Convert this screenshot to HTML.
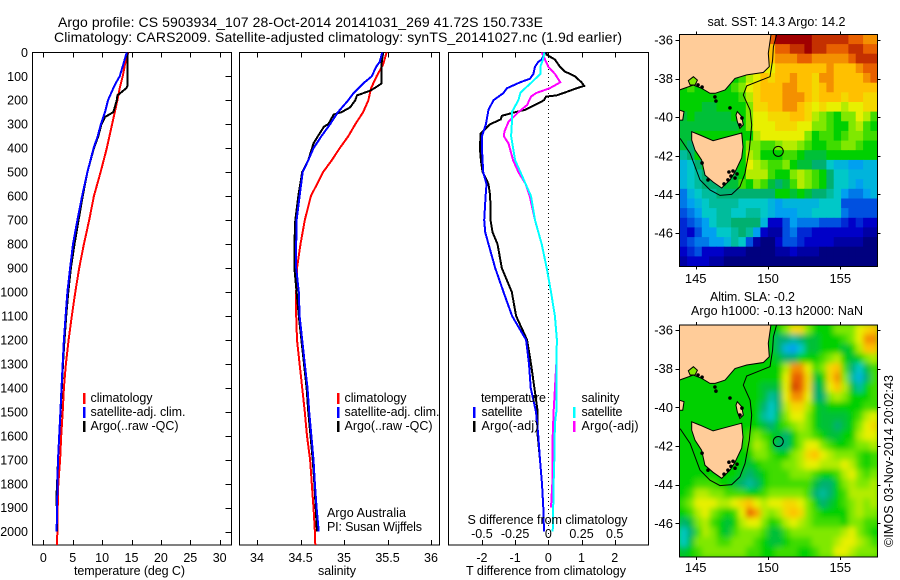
<!DOCTYPE html>
<html><head><meta charset="utf-8"><title>Argo profile</title>
<style>
html,body{margin:0;padding:0;background:#fff;}
svg{display:block;}
text{font-family:"Liberation Sans",sans-serif;font-size:12.5px;fill:#000;}
</style></head>
<body>
<svg id="chart" xmlns="http://www.w3.org/2000/svg" width="900" height="580" viewBox="0 0 900 580">
<defs>
<clipPath id="clip-sst"><rect x="679.5" y="34.5" width="198" height="232"/></clipPath>
<clipPath id="clip-sla"><rect x="679.5" y="325" width="198" height="232"/></clipPath>
<clipPath id="clip-t"><rect x="32.5" y="52.5" width="199" height="492.5"/></clipPath>
<clipPath id="clip-s"><rect x="239.5" y="52.5" width="200" height="492.5"/></clipPath>
<clipPath id="clip-d"><rect x="448.5" y="52.5" width="200" height="492.5"/></clipPath>
<filter id="soft" x="-5%" y="-5%" width="110%" height="110%"><feGaussianBlur stdDeviation="3"/></filter>
</defs>
<text x="58" y="27" font-size="14" style="font-size:14px" textLength="485" lengthAdjust="spacing">Argo profile: CS 5903934_107 28-Oct-2014 20141031_269 41.72S 150.733E</text>
<text x="54" y="42" style="font-size:14px" textLength="568" lengthAdjust="spacing">Climatology: CARS2009. Satellite-adjusted climatology: synTS_20141027.nc (1.9d earlier)</text>

<g id="panel-t"></g>
<g id="panel-s"></g>
<g id="panel-d"></g>
<g id="map-sst"></g>
<g id="map-sla"></g>

<text x="74" y="575" textLength="111" lengthAdjust="spacing">temperature (deg C)</text>
<text x="318" y="575" textLength="38" lengthAdjust="spacing">salinity</text>
<text x="466" y="575" textLength="160" lengthAdjust="spacing">T difference from climatology</text>
<text x="467.5" y="524" textLength="160" lengthAdjust="spacing">S difference from climatology</text>

<g>
<rect x="83" y="393" width="2.5" height="11" fill="#f00"/>
<text x="90.5" y="402" textLength="62" lengthAdjust="spacing">climatology</text>
<rect x="83" y="407" width="2.5" height="11" fill="#00f"/>
<text x="90.5" y="416" textLength="95" lengthAdjust="spacing">satellite-adj. clim.</text>
<rect x="83" y="421" width="2.5" height="11" fill="#000"/>
<text x="90.5" y="430" textLength="88" lengthAdjust="spacing">Argo(..raw -QC)</text>
</g>
<g>
<rect x="337" y="393" width="2.5" height="11" fill="#f00"/>
<text x="344.5" y="402" textLength="62" lengthAdjust="spacing">climatology</text>
<rect x="337" y="407" width="2.5" height="11" fill="#00f"/>
<text x="344.5" y="416" textLength="95" lengthAdjust="spacing">satellite-adj. clim.</text>
<rect x="337" y="421" width="2.5" height="11" fill="#000"/>
<text x="344.5" y="430" textLength="88" lengthAdjust="spacing">Argo(..raw -QC)</text>
</g>
<text x="327" y="517" textLength="79" lengthAdjust="spacing">Argo Australia</text>
<text x="327" y="531" textLength="95" lengthAdjust="spacing">PI: Susan Wijffels</text>
<g>
<text x="481" y="402" textLength="65" lengthAdjust="spacing">temperature</text>
<rect x="473" y="407" width="2.5" height="11" fill="#00f"/>
<text x="481.5" y="416" textLength="41" lengthAdjust="spacing">satellite</text>
<rect x="473" y="421" width="2.5" height="11" fill="#000"/>
<text x="481.5" y="430" textLength="57" lengthAdjust="spacing">Argo(-adj)</text>
<text x="581.5" y="402" textLength="38" lengthAdjust="spacing">salinity</text>
<rect x="573" y="407" width="2.5" height="11" fill="#0ff"/>
<text x="581.5" y="416" textLength="41" lengthAdjust="spacing">satellite</text>
<rect x="573" y="421" width="2.5" height="11" fill="#f0f"/>
<text x="581.5" y="430" textLength="57" lengthAdjust="spacing">Argo(-adj)</text>
</g>

<text x="707.5" y="26" textLength="138" lengthAdjust="spacing">sat. SST: 14.3 Argo: 14.2</text>
<text x="710" y="301" textLength="85" lengthAdjust="spacing">Altim. SLA: -0.2</text>
<text x="691" y="315" textLength="172" lengthAdjust="spacing">Argo h1000: -0.13 h2000: NaN</text>
<text transform="translate(893,547) rotate(-90)" textLength="172" lengthAdjust="spacing">©IMOS 03-Nov-2014 20:02:43</text>
</svg>

<script>
// ---- temperature profiles (deg C) ----
const tempClimDepths = [0,50,100,150,200,300,400,500,600,700,800,900,1000,1100,1200,1300,1400,1500,1600,1700,1800,1900,2000,2055];
const tempClimValues = [14.45,13.9,13.5,13,12.6,11.7,10.8,9.75,8.6,7.8,6.9,6.1,5.45,4.85,4.3,3.85,3.5,3.3,3.05,2.85,2.55,2.45,2.4,2.3];
const tempSatDepths = [0,50,100,130,150,200,250,300,350,400,500,600,700,800,900,1000,1100,1200,1300,1400,1500,1600,1700,1800,1900,2000];
const tempSatValues = [14.2,13.6,13,12.3,11.9,11,10.5,9.8,9.25,8.55,7.5,6.6,5.8,5.05,4.55,4.1,3.8,3.5,3.3,3.1,2.9,2.7,2.5,2.4,2.35,2.27];
const tempArgoDepths = [0,140,150,180,200,250,270,300,350,400,500,600,700,800,900,1000,1100,1200,1300,1400,1500,1600,1700,1800,1850,1900,2000];
const tempArgoValues = [14.3,14.3,14.1,12.6,12.5,11.9,10.5,9.9,9.35,8.6,7.5,6.7,6,5.3,4.7,4.25,3.9,3.6,3.35,3.15,2.95,2.7,2.5,2.35,2.25,2.3,2.3];
// ---- salinity profiles (psu) ----
const salClimDepths = [0,50,100,150,200,250,300,350,400,450,500,600,700,800,900,1000,1100,1200,1300,1400,1500,1600,1700,1800,1900,2000,2055];
const salClimValues = [35.49,35.45,35.375,35.31,35.28,35.22,35.13,35.05,34.95,34.86,34.76,34.62,34.55,34.5,34.46,34.45,34.45,34.46,34.49,34.52,34.55,34.575,34.61,34.63,34.65,34.665,34.67];
const salSatDepths = [0,40,60,100,130,170,200,250,300,350,400,450,500,600,700,800,900,1000,1100,1200,1300,1400,1500,1600,1700,1800,1900,2000];
const salSatValues = [35.44,35.41,35.37,35.32,35.22,35.11,35.05,34.93,34.84,34.74,34.65,34.59,34.525,34.49,34.455,34.45,34.45,34.48,34.49,34.52,34.55,34.58,34.6,34.625,34.65,34.665,34.685,34.71];
const salArgoDepths = [0,50,130,145,160,180,200,230,250,260,300,310,350,380,450,500,600,700,800,900,1000,1100,1200,1300,1400,1500,1600,1700,1800,2000];
const salArgoValues = [35.45,35.43,35.43,35.37,35.3,35.15,35.13,35.07,34.97,34.88,34.82,34.77,34.7,34.65,34.59,34.52,34.475,34.44,34.43,34.43,34.455,34.48,34.51,34.54,34.57,34.59,34.615,34.64,34.66,34.69];
// ---- differences from climatology ----
const diffTArgoDepths = [0,10,30,60,80,100,125,140,150,165,180,185,200,220,240,250,265,280,300,320,340,400,450,500,520,550,600,700,750,800,900,1000,1100,1200,1300,1400,1500,1600,1700,1800];
const diffTArgoValues = [-0.07,-0.05,0.2,0.35,0.5,0.8,1,1.08,0.85,0.55,0.25,-0.07,-0.13,-0.4,-0.7,-1,-1.4,-1.43,-1.75,-1.9,-2.04,-2.06,-2.03,-1.98,-1.9,-1.8,-1.75,-1.74,-1.68,-1.53,-1.4,-1.1,-0.97,-0.64,-0.52,-0.42,-0.32,-0.32,-0.25,-0.19];
const diffTSatDepths = [0,30,40,60,90,110,125,150,170,200,240,300,350,400,500,550,600,700,750,800,900,1000,1100,1200,1300,1400,1500,1600,1700,1800,1900,2000];
const diffTSatValues = [-0.1,-0.2,-0.3,-0.4,-0.45,-0.55,-0.85,-1.25,-1.35,-1.65,-1.8,-1.88,-2,-2,-1.96,-1.86,-1.89,-1.93,-1.9,-1.8,-1.6,-1.35,-1.09,-0.67,-0.58,-0.53,-0.37,-0.3,-0.25,-0.19,-0.15,-0.13];
const diffSArgoDepths = [0,30,60,90,125,150,170,185,220,250,290,330,350,380,450,500,550,600,700,800,900,1000,1100,1200,1300,1500,1600,1800,1900];
const diffSArgoValues = [-0.05,-0.025,0,0.05,0.09,0.01,-0.09,-0.13,-0.16,-0.225,-0.3,-0.33,-0.335,-0.3,-0.265,-0.225,-0.17,-0.14,-0.1,-0.05,-0.012,0.02,0.05,0.065,0.06,0.04,0.033,0.03,0.02];
const diffSSatDepths = [0,30,60,90,125,150,170,200,250,300,350,400,450,500,550,600,700,800,900,1000,1100,1200,1300,1500,1550,1700,1800,1900,2000];
const diffSSatValues = [-0.03,-0.04,-0.06,-0.06,-0.125,-0.175,-0.21,-0.225,-0.275,-0.275,-0.28,-0.265,-0.25,-0.21,-0.17,-0.13,-0.1,-0.05,-0.012,0.02,0.05,0.065,0.06,0.06,0.05,0.045,0.04,0.037,0.033];
// ---- tick labels ----
const depthTicks = [0,100,200,300,400,500,600,700,800,900,1000,1100,1200,1300,1400,1500,1600,1700,1800,1900,2000];
const tempTicks = [0,5,10,15,20,25,30];
const salTicks = [34,34.5,35,35.5,36];
const diffTTicks = [-2,-1,0,1,2];
const diffSTicks = [-0.5,-0.25,0,0.25,0.5];
const lonTicks = [145,150,155];
const latTicks = [-36,-38,-40,-42,-44,-46];
// ---- map grids: colour level per 0.5 degree cell, rows north to south ----
const sstLevels = [
[6,6,6,6,6,6,6,6,6,6,6,6,10,11,11,11,11,11,10.5,10.5,10.5,10.5,10.5,10,10,9.5,9.5],
[6,6,6,6,6,6,6,6,6,6,6,6,9,10,10,10.5,10.5,11,10.5,10.5,10,10,10,10.5,10.5,10,10],
[6,6,6,6,6,6,6,6,6,6,6,6,9,9.5,9.5,9.5,10,10,9.5,9.5,9.5,9.5,9.5,10,10.5,10.5,10.5],
[6,6,6,6,6,6,6,6,6,6,6,8,8,9,9,9,9,9,9,9,9.5,9,9,9,9.5,10,10],
[6,6,6,6,6,6,6,6,6.5,7.5,8,9,8.5,9,9,9.5,9,9,8.5,9.5,9.5,9,9,9,9,9.5,10],
[6,6.5,6,6,6,6,6,6.5,7,8,8.5,9,9,9,9.5,9.5,9,9,8.5,9,9.5,9,9,9,9,9,9],
[6,6,6,6,6,6,6,6,6.5,7.5,8.5,9,9,9,9.5,9.5,9.5,9,8.5,9,9,9,8.5,9,9,8.5,8.5],
[6,6,6,5.5,5.5,6,6,6,6,7,8.5,8.5,9,9,9.5,9.5,9,8.5,8,8.5,8,8,7.5,8,8,8.5,8.5],
[5.5,6,5.5,5.5,5.5,5.5,5.5,6,6,7,8,8,8.5,8.5,8.5,9,9,8.5,7.5,7,6.5,6,7,7,8,7.5,6.5],
[5.5,5.5,5.5,5.5,5.5,5.5,5.5,5.5,6,7,8,8,8,8.5,8.5,8.5,8,8,7,7,6.5,6,6,7,7.5,6.5,6],
[5.5,5.5,6,6,6,6,6,6,6,6,7.5,8,8,8,8,8,8,7,6,6.5,6.5,6,6.5,7,7,6.5,6.5],
[5.5,5,6,6,6,6,6,6,6,7,7,6.5,6.5,7,7.5,7.5,7,6.5,6,6,6.5,6.5,7,7,6.5,6,6],
[4.5,5,6,6,6,6,6,6,6,7.5,7,6,6,6,6.5,6.5,6,5.5,5.5,5.5,6,6,6,6,6,6,6],
[3.5,4,5,6,6,6,6,6,6,8,7.5,7,6.5,6.5,7,6,5.5,5.5,5,5,4,3.5,3.5,3,3,3.5,3.5],
[3.5,4,4.5,5,5.5,5.5,5.5,5.5,6,7.5,7.5,7.5,6.5,6,6,7,7.5,7,6.5,6,5,4,4,3.5,3.5,3.5,3.5],
[3.5,4,4.5,5,5,5,5.5,5.5,6.5,6,7,6.5,5.5,5,5.5,6.5,7.5,7,6.5,6,5,4,4,3.5,3,3.5,3.5],
[2.5,3.5,4,4.5,4.5,5,5,5,5,5,5,5,5,6,6,5.5,6,5.5,5,5,4.5,4,3,2.5,2.5,3,3.5],
[2.5,3,3.5,4,4.5,4.5,4.5,4.5,4,4,4,4,3.5,3,3.5,3.5,3.5,3.5,3.5,4,4,4,2,2,2,2,2],
[2,2.5,3,4,4,4.5,4.5,4,4,4.5,4.5,4,3.5,3,3,3,3.5,3.5,4,4,4,4,2.5,2,2,2,2],
[1.5,2,2.5,3,4,4.5,4.5,5,5,5,5,3.5,1,1,2,3,2.5,2.5,2.5,2,2,2,1.5,1,1.5,1,1],
[1.5,1,2,3,3,4,4,4.5,5,4.5,3,1,0.5,0.5,2,2.5,1.5,1.5,1,1,1,1,1,1,1,0.5,0.5],
[1.5,2,2.5,2.5,3,3,3.5,4.5,4,2,0.5,0,0,1,2,2,1.5,1,1,1,1,0.5,0.5,0.5,0.5,0,0],
[1,1.5,2,1,1,1,0.5,0.5,0.5,0,0,0,0,0.5,0.5,1,0.5,0.5,0.5,0,0,0,0,0,0,0,0],
[0.5,1,1,1,0.5,0.5,0,0,0,0,0,0,0,0,0,0,0,0,0,0,0,0,0,0,0,0,0]
];
const slaLevels = [
[6,6,6,6,6,6,6,6,6,6,6,6,6,6,7,8.5,8.5,7,6,6,6,7,7,7,8,8.5,9],
[6,6,6,6,6,6,6,6,6,6,6,6,6,5,5,4.5,5,5.5,5.5,6,6,6,6.5,7,8,9.5,9.5],
[6,6,6,6,6,6,6,6,6,6,6,6,6,5,3.5,3,4,5.5,5.5,6,6,6,5.5,6,7.5,9,9],
[6,6,6,6,6,6,6,6,6,6,6,6,6,5.5,5,5,6,6,6,6.5,7,7.5,6,5.5,6,7,7.5],
[6,6,6,6,6,6,6,6,6,6,6,6,6,6,7.5,9.5,9.5,8,6.5,7,8.5,9,6.5,5,4,5.5,6.5],
[6,6,6,6,6,6,6,6,6,6,6,6,6,6,8,10,10,8.5,5.5,6,8.5,9.5,7,4.5,3.5,5,6.5],
[6,6,6,6,6,6,6,6,6,6,6,5.5,5.5,5.5,8,10.3,10,8.5,5,5.5,8,9,7.5,5.5,4.5,6,6.5],
[6,6,6,6,6,6,6,6,6,6,6,5.5,4.5,5,8,9.5,9.5,8,5,5,7,7.5,7,6,6,6,6.5],
[6,6,6,6,6,6,6,6,6,6,6,5,4,5,7.5,8.5,8.5,7.5,6,5.5,6,6,6,6,6,6.5,6.5],
[6,6,6,6,6,6,6,6,6,6,6,4.5,4,5.5,7,8,8,7,6,5.5,5.5,5.5,5.5,6,6.5,7.5,8],
[6,6,6,6,6,6,6,6,6,6,6,5.5,5,6,6.5,7,7.5,7,6,5.5,5.5,5,5.5,6,7,8,8.5],
[6,6,6,6,6,6,6,6,6,6.5,7,6.5,6,5.5,5,6,7,7,6.5,6,5.5,5.5,6,6,7.5,8,8],
[6,6,6,6,6,6,6,6,6,6.5,7.5,7,6,5,5,6,7,8,8,7,6.5,6,6,6.5,7,7,7.5],
[6,6,6,6,6,6,6,6,6,6,7,7,6.5,6,6,7,7.5,8.5,9,8,7.5,7,7,7,6.5,6,6.5],
[6,6,6,6,6,6,6,6,6,5.5,6,6.5,6.5,6.5,7,7,7.5,8,8,7.5,7.5,7.5,8,7.5,6.5,6,6.5],
[6,6,6,6,6,6,6,6,5.5,5,5.5,6,6.5,6.5,6.5,7,7,7,6.5,6,6,6.5,7.5,8,7,6.5,7],
[6,6,6.5,6.5,6.5,6,6,5.5,5,4.5,5,6,6.5,6.5,6.5,6.5,6.5,6.5,5.5,5,5,6,7,7.5,7,7,7.5],
[6,6.5,7.5,7.5,7,7,6.5,6.5,6.5,6,6,6.5,7,7,7,7,7,6.5,5,4.5,5,6,6.5,7.5,7.5,7.5,7.5],
[6.5,7,8,8,8,7.5,7.5,8,8.5,9,8,7.5,8,8,8.5,8.5,8,7,6,5,5.5,6,6.5,7,7.5,7,7.5],
[6,6.5,7.5,8,7,6.5,6,6.5,8,10,9.3,7.5,7,7.5,8.5,9,8.5,7,6.5,6,6,6,6,7,7.5,7,7],
[5,5.5,7,7.5,6.5,6,5.5,6,7.5,8,8,7,6,6.5,7.5,8,7.5,7,6.5,6.5,6.5,6.5,6,7,7,6.5,6.5],
[4,5,6.5,7.5,7,6,5.5,6.5,7,7,7,6.5,5.5,5.5,6.5,7,7,7,7,7,7,7,7.5,8,7,6.5,6],
[4,5.5,7,7,7,6.5,6.5,7,7,7,6.5,6,5.5,5.5,6,6.5,6.5,6.5,7,7,7,7.5,8,8,7.5,7,6.5],
[5.5,6,6.5,7,7,7,7,7,7,6.5,6.5,6,6,6.5,6.5,6.5,6,6,6.5,7,7,8,8,7.5,7,7,7]
];
const colourStops = ['#00007f','#0000c8','#0050e0','#00a0f0','#00c8c8','#00b070','#00d000','#80e800','#e8f000','#ffc000','#e86000','#a00000'];
// ---- geography (lon / lat) ----
const mainlandLon = [143.87,150.21,150.02,150.09,149.68,148.53,147.72,147.03,146.34,145.99,145.41,144.84,143.87];
const mainlandLat = [-35.71,-35.71,-36.69,-37.38,-37.68,-37.81,-37.99,-38.59,-38.76,-38.76,-38.5,-38.33,-38.59];
const tasmaniaLon = [144.72,145.29,146.2,146.89,148.18,148.27,148.18,147.72,147.37,146.8,146.2,145.64,145.41,144.95,144.72];
const tasmaniaLat = [-40.75,-40.92,-41.22,-41.08,-40.82,-41.54,-42.11,-42.84,-43.25,-43.67,-43.36,-43,-42.22,-41.7,-41.18];
const flindersLon = [147.88,148.18,148.29,148.06,147.88,147.79];
const flindersLat = [-39.71,-39.97,-40.4,-40.58,-40.23,-39.89];
const kingLon = [143.87,144.19,144.1,143.87];
const kingLat = [-39.63,-39.71,-40.15,-40.15];
const bayLon = [144.49,144.84,145.12,144.96,144.61];
const bayLat = [-38.11,-37.9,-38.08,-38.33,-38.33];
const isobathLon = [150.6,150.37,150.32,150.14,148.53,148.29,148.76,148.87,148.71,148.41,148.06,147.49,146.68,145.99,145.3,144.61,143.92];
const isobathLat = [-35.71,-36.35,-37.04,-37.9,-38.38,-38.85,-39.63,-40.4,-41.7,-42.91,-43.6,-44,-44.05,-43.77,-43.25,-41.87,-41.1];
const inletLon = [147.3,147.58,147.86,147.44,147.72,147.23,146.96,145.85,145.44,148.06,148.2,145.16,145.44,146.33,146.4,147.37];
const inletLat = [-42.84,-42.79,-42.94,-43.05,-43.15,-43.25,-43.46,-43.25,-42.37,-40.4,-40.04,-38.33,-38.44,-38.95,-39.16,-39.52];
const profileLon = [150.71];
const profileLat = [-41.77];

// ---- axis functions ----
const yDepth = d => 52.3 + d * 0.2397;
const xTemp = t => 43.3 + t * 5.88;
const xSal = s => 257 + (s - 34) * 87;
const xDiffT = t => 548.3 + t * 33.2;
const xDiffS = s => 548.3 + s * 132.8;
const mapX = lon => 695.7 + (lon - 145) * 14.46;
const sstY = lat => 40 + (-36 - lat) * 19.3;
const slaY = lat => 330 + (-36 - lat) * 19.33;

const NS = 'http://www.w3.org/2000/svg';
function make(parent, tag, props) {
  const el = document.createElementNS(NS, tag);
  for (const k in props) el.setAttribute(k, props[k]);
  parent.appendChild(el);
  return el;
}
function drawLine(parent, depths, values, xf, colour, name, clip) {
  const pts = depths.map((d, i) => xf(values[i]).toFixed(1) + ',' + yDepth(d).toFixed(1)).join(' ');
  const el = make(parent, 'polyline', {points: pts, fill: 'none', stroke: colour, 'stroke-width': 2, 'shape-rendering': 'crispEdges', 'clip-path': 'url(#' + clip + ')'});
  
  
}
function drawFrame(parent, x, w, name) {
  const el = make(parent, 'rect', {x: x, y: 52.5, width: w, height: 492.5, fill: 'none', stroke: '#000', 'stroke-width': 1, 'shape-rendering': 'crispEdges'});
  
  
}
function drawXTicks(parent, ticks, xf, labelY, name, fmt) {
  ticks.forEach(v => {
    const x = Math.round(xf(v)) + 0.5;
    [[52.5, 57.5], [540, 545]].forEach(p => {
      const el = make(parent, 'line', {x1: x, x2: x, y1: p[0], y2: p[1], stroke: '#000', 'stroke-width': 1, 'shape-rendering': 'crispEdges'});
      
      
    });
    const t = make(parent, 'text', {x: xf(v), y: labelY, 'text-anchor': 'middle'});
    t.textContent = fmt ? fmt(v) : String(v);
    
    
  });
}
// Temperature panel
const pT = document.getElementById('panel-t');
drawFrame(pT, 32.5, 199, 'temperature-plot-frame');
drawXTicks(pT, tempTicks, xTemp, 562, 'temperature-axis');
depthTicks.forEach(d => {
  const y = Math.round(yDepth(d)) + 0.5;
  const el = make(pT, 'line', {x1: 225.5, x2: 231.5, y1: y, y2: y, stroke: '#000', 'stroke-width': 1, 'shape-rendering': 'crispEdges'});
  
  
  const t = make(pT, 'text', {x: 28, y: yDepth(d) + 4.5, 'text-anchor': 'end'});
  t.textContent = String(d);
  
  
});
drawLine(pT, tempClimDepths, tempClimValues, xTemp, '#f00', 'temperature-climatology-line', 'clip-t');
drawLine(pT, tempArgoDepths, tempArgoValues, xTemp, '#000', 'temperature-argo-line', 'clip-t');
drawLine(pT, tempSatDepths, tempSatValues, xTemp, '#00f', 'temperature-satellite-line', 'clip-t');
// Salinity panel
const pS = document.getElementById('panel-s');
drawFrame(pS, 239.5, 200, 'salinity-plot-frame');
drawXTicks(pS, salTicks, xSal, 562, 'salinity-axis');
drawLine(pS, salClimDepths, salClimValues, xSal, '#f00', 'salinity-climatology-line', 'clip-s');
drawLine(pS, salArgoDepths, salArgoValues, xSal, '#000', 'salinity-argo-line', 'clip-s');
drawLine(pS, salSatDepths, salSatValues, xSal, '#00f', 'salinity-satellite-line', 'clip-s');
// Difference panel
const pD = document.getElementById('panel-d');
drawFrame(pD, 448.5, 200, 'difference-plot-frame');
drawXTicks(pD, diffTTicks, xDiffT, 562, 't-difference-axis');
diffSTicks.forEach(v => {
  const t = make(pD, 'text', {x: xDiffS(v), y: 538, 'text-anchor': 'middle'});
  t.textContent = String(v);
  
  
});
const zero = make(pD, 'line', {x1: Math.round(xDiffT(0)) + 0.5, x2: Math.round(xDiffT(0)) + 0.5, y1: 53, y2: 545, stroke: '#000', 'stroke-width': 1, 'stroke-dasharray': '1 3', 'shape-rendering': 'crispEdges'});


drawLine(pD, diffTArgoDepths, diffTArgoValues, xDiffT, '#000', 't-difference-argo-line', 'clip-d');
drawLine(pD, diffTSatDepths, diffTSatValues, xDiffT, '#00f', 't-difference-satellite-line', 'clip-d');
drawLine(pD, diffSArgoDepths, diffSArgoValues, xDiffS, '#f0f', 's-difference-argo-line', 'clip-d');
drawLine(pD, diffSSatDepths, diffSSatValues, xDiffS, '#0ff', 's-difference-satellite-line', 'clip-d');

// Maps
function levelColour(v) {
  const i = Math.max(0, Math.min(colourStops.length - 1.001, v));
  const a = Math.floor(i), f = i - a;
  const c0 = colourStops[a], c1 = colourStops[a + 1];
  const rgb = [1, 3, 5].map(p => Math.round(parseInt(c0.substr(p, 2), 16) * (1 - f) + parseInt(c1.substr(p, 2), 16) * f));
  return 'rgb(' + rgb.join(',') + ')';
}
function shape(parent, lons, lats, yf, fill, stroke, name, clip, close) {
  const pts = lons.map((lo, i) => mapX(lo).toFixed(1) + ',' + yf(lats[i]).toFixed(1)).join(' ');
  const el = make(parent, close ? 'polygon' : 'polyline', {points: pts, fill: fill, stroke: stroke, 'stroke-width': 1, 'clip-path': 'url(#' + clip + ')'});
  
  
}
function drawMap(id, grid, yf, top, clip, labelY, blur, prefix) {
  const g = document.getElementById(id);
  const cells = make(g, 'g', {'clip-path': 'url(#' + clip + ')'});
  
  
  const inner = make(cells, 'g', blur ? {filter: 'url(#soft)'} : {});
  
  
  const lon0 = 143.9, dLon = 0.507, lat0 = -35.71, dLat = 0.5;
  const bg = make(inner, 'rect', {x: 660, y: top - 20, width: 240, height: 272, fill: levelColour(6)});
  
  
  grid.forEach((row, j) => row.forEach((v, i) => {
    const x0 = mapX(lon0 + i * dLon), x1 = mapX(lon0 + (i + 1) * dLon);
    const y0 = yf(lat0 - j * dLat), y1 = yf(lat0 - (j + 1) * dLat);
    const c = make(inner, 'rect', {x: x0.toFixed(1), y: y0.toFixed(1), width: (x1 - x0 + 0.6).toFixed(1), height: (y1 - y0 + 0.6).toFixed(1), fill: levelColour(v)});
    
    
  }));
  shape(g, isobathLon, isobathLat, yf, 'none', '#000', prefix + '-isobath', clip, false);
  shape(g, mainlandLon, mainlandLat, yf, '#ffcc99', '#000', prefix + '-mainland', clip, true);
  shape(g, bayLon, bayLat, yf, '#80e800', '#000', prefix + '-port-phillip', clip, true);
  shape(g, tasmaniaLon, tasmaniaLat, yf, '#ffcc99', '#000', prefix + '-tasmania', clip, true);
  shape(g, flindersLon, flindersLat, yf, '#ffcc99', '#000', prefix + '-flinders-island', clip, true);
  shape(g, kingLon, kingLat, yf, '#ffcc99', '#000', prefix + '-king-island', clip, true);
  inletLon.forEach((lo, i) => {
    const d = make(g, 'circle', {cx: mapX(lo), cy: yf(inletLat[i]), r: 1.8, fill: '#000'});
    
    
  });
  const frame = make(g, 'rect', {x: 679.5, y: top, width: 198, height: 232, fill: 'none', stroke: '#000', 'stroke-width': 1, 'shape-rendering': 'crispEdges'});
  
  
  const dot = make(g, 'circle', {cx: mapX(profileLon[0]), cy: yf(profileLat[0]), r: 5, fill: 'none', stroke: '#000', 'stroke-width': 1});
  
  
  lonTicks.forEach(lon => {
    const x = Math.round(mapX(lon)) + 0.5;
    [[top - 3, top], [top + 232, top + 235]].forEach(p => {
      const l = make(g, 'line', {x1: x, x2: x, y1: p[0], y2: p[1], stroke: '#000', 'stroke-width': 1, 'shape-rendering': 'crispEdges'});
      
      
    });
    const t = make(g, 'text', {x: mapX(lon), y: labelY, 'text-anchor': 'middle', style: 'font-size:13px'});
    t.textContent = String(lon);
    
    
  });
  latTicks.forEach(lat => {
    const y = Math.round(yf(lat)) + 0.5;
    [[675.5, 679.5], [877.5, 880.5]].forEach(p => {
      const l = make(g, 'line', {x1: p[0], x2: p[1], y1: y, y2: y, stroke: '#000', 'stroke-width': 1, 'shape-rendering': 'crispEdges'});
      
      
    });
    const t = make(g, 'text', {x: 673, y: yf(lat) + 4.5, 'text-anchor': 'end', style: 'font-size:13px'});
    t.textContent = String(lat);
    
    
  });
}
drawMap('map-sst', sstLevels, sstY, 34.5, 'clip-sst', 283, false, 'sst-map');
drawMap('map-sla', slaLevels, slaY, 325, 'clip-sla', 572, true, 'sla-map');
</script>
</body></html>
